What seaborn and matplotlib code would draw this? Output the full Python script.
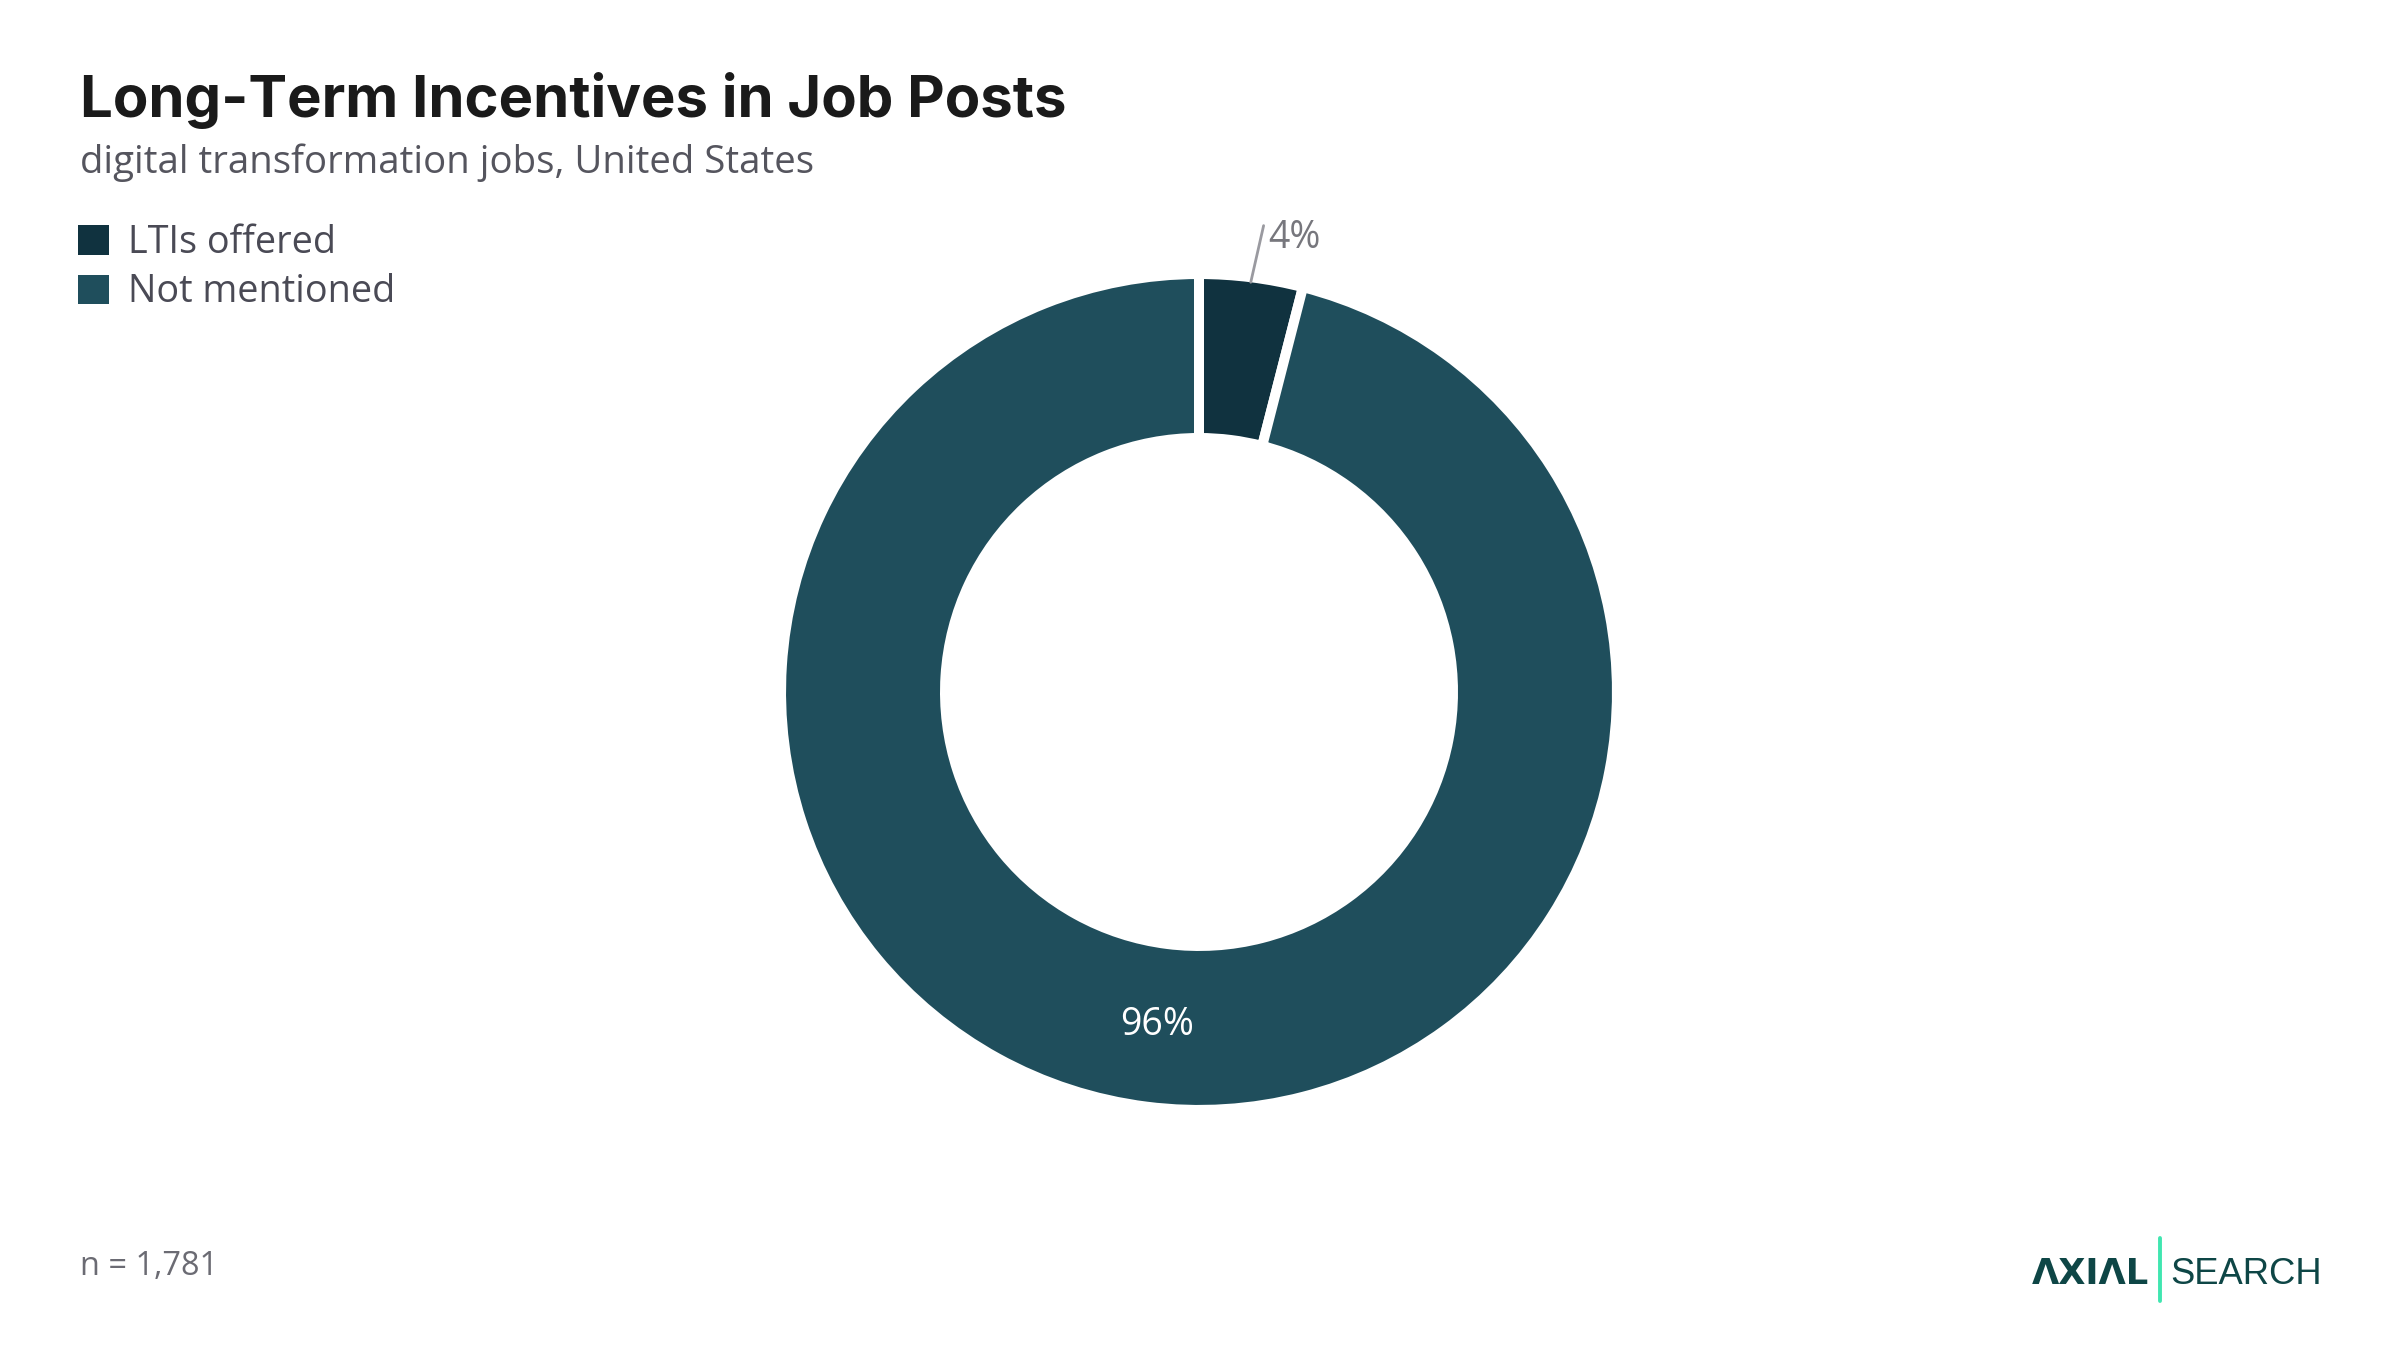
import numpy as np
import matplotlib.pyplot as plt
import seaborn as sns

# data
categories = ['LTIs offered', 'Not mentioned']
shares = [4, 96]
colors = ['#10323f', '#1f4e5c']
n_total = 1781

sns.set_theme(style='white')
plt.rcParams['font.family'] = ['Inter', 'DejaVu Sans']
body_font = ['Open Sans', 'DejaVu Sans']

fig = plt.figure(figsize=(12, 6.75), dpi=200)
fig.patch.set_facecolor('white')

# axes sized so radius 1 ~ 413 px, centred at (1199, 692)
ax = fig.add_axes([0.24146, 0.02852, 0.51625, 0.9178])
wedges, _ = ax.pie(shares, colors=colors, startangle=90, counterclock=False,
                   radius=1.012,
                   wedgeprops=dict(width=0.397, edgecolor='white', linewidth=3.6))
ax.set_xlim(-1.5, 1.5)
ax.set_ylim(-1.5, 1.5)
ax.set_aspect('equal')
ax.axis('off')

# percentage labels
for w, val in zip(wedges, shares):
    mid = np.deg2rad((w.theta1 + w.theta2) / 2)
    if val < 10:
        x0, y0 = np.cos(mid) * 1.0, np.sin(mid) * 1.0
        x1, y1 = np.cos(mid - 0.012) * 1.14, np.sin(mid - 0.012) * 1.14
        ax.plot([x0, x1], [y0, y1], color='#9a9aa0', lw=1.0, clip_on=False)
        ax.text(x1 + 0.012, y1 - 0.03, f'{val}%', ha='left', va='center',
                fontsize=13.5, color='#77777d', family=body_font)
    else:
        r = 0.8135
        ax.text(np.cos(mid) * r, np.sin(mid) * r, f'{val}%', ha='center', va='center',
                fontsize=13.5, color='white', family=body_font)

# title and subtitle
fig.text(0.0335, 0.913, 'Long-Term Incentives in Job Posts', fontsize=20.9,
         fontweight='bold', color='#1a1a1a', ha='left', va='baseline')
fig.text(0.0335, 0.872, 'digital transformation jobs, United States', fontsize=13.8,
         color='#55555e', ha='left', va='baseline', family=body_font)

# legend
leg = fig.legend(wedges, categories, loc='upper left', bbox_to_anchor=(0.0325, 0.834),
                 frameon=False, handlelength=0.83, handleheight=0.83,
                 handletextpad=0.5, labelspacing=0.3, borderpad=0, borderaxespad=0,
                 prop={'family': body_font, 'size': 13.6})
for t in leg.get_texts():
    t.set_color('#4a4a55')
for h in leg.legend_handles:
    h.set_linewidth(0)

# footnote
fig.text(0.0335, 0.0615, f'n = {n_total:,}', fontsize=11.7, color='#6b6b73',
         ha='left', va='center', family=body_font)

# logo
fig.text(0.8954, 0.0489, 'ΛXIΛL', fontsize=12.7, fontweight='bold', color='#0e4646',
         ha='right', va='baseline', family=['DejaVu Sans'])
fig.add_artist(plt.Line2D([0.8999, 0.8999], [0.036, 0.083], color='#40e6b0', lw=1.4))
fig.text(0.9044, 0.0489, 'SEARCH', fontsize=13.1, color='#0e4646',
         ha='left', va='baseline', family=['Liberation Sans'])

fig.savefig('out.png', dpi=200, facecolor='white')
